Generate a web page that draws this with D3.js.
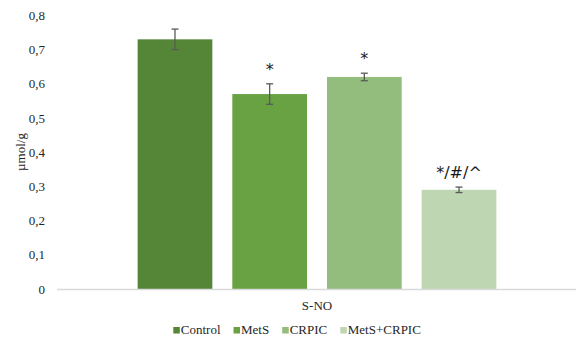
<!DOCTYPE html>
<html>
<head>
<meta charset="utf-8">
<script src="https://cdn.jsdelivr.net/npm/d3@7/dist/d3.min.js"></script>
<style>
  html, body { margin: 0; padding: 0; background: #fff; }
  svg { display: block; }
  .serif { font-family: "Liberation Serif", "Times New Roman", Times, serif; }
  .sans { font-family: "DejaVu Sans", Verdana, sans-serif; }
</style>
</head>
<body>
<svg id="chart" width="576" height="340"></svg>
<script>
// S-NO levels per group (µmol/g), with error bars and significance marks
const category = "S-NO";
const groups = ["Control", "MetS", "CRPIC", "MetS+CRPIC"];
const means = [0.73, 0.57, 0.62, 0.29];
const errors = [0.03, 0.03, 0.011, 0.008];
const marks = ["", "*", "*", "*/#/^"];
const yTicks = [0, 0.1, 0.2, 0.3, 0.4, 0.5, 0.6, 0.7, 0.8];
const colors = ["#558536", "#69a243", "#93bd7c", "#bed6b2"];

const svg = d3.select("#chart");

const plotLeft = 57, plotRight = 577, plotTop = 15.4, plotBottom = 289;

const y = d3.scaleLinear().domain([0, 0.8]).range([plotBottom, plotTop]);
const x0 = d3.scaleBand().domain([category]).range([plotLeft, plotRight])
  .paddingInner(0).paddingOuter(0.2248);
const x1 = d3.scaleBand().domain(groups).range([0, x0.bandwidth()])
  .paddingInner(0.211).paddingOuter(0);

const locale = d3.formatLocale({ decimal: ",", thousands: ".", grouping: [3], currency: ["", ""] });
const fmt = v => v === 0 ? "0" : locale.format(".1f")(v);

// y axis labels only (no axis line, no ticks)
const yAxis = svg.append("g")
  .attr("transform", `translate(${plotLeft},0)`)
  .call(d3.axisLeft(y).tickValues(yTicks).tickFormat(fmt).tickSize(0).tickPadding(12));
yAxis.select(".domain").remove();
yAxis.attr("font-family", null).attr("font-size", null);
yAxis.selectAll("text")
  .attr("class", "serif").style("font-size", "13px").attr("fill", "#262626");

// axis title
svg.append("text")
  .attr("class", "serif")
  .attr("transform", `translate(25,152) rotate(-90)`)
  .attr("text-anchor", "middle")
  .style("font-size", "13px").attr("fill", "#262626")
  .text("µmol/g");

const gx = x0(category);

// bars
svg.append("g").selectAll("rect")
  .data(groups)
  .join("rect")
  .attr("x", d => gx + x1(d))
  .attr("width", x1.bandwidth())
  .attr("y", (d, i) => y(means[i]))
  .attr("height", (d, i) => y(0) - y(means[i]))
  .attr("fill", (d, i) => colors[i]);

// baseline
svg.append("line")
  .attr("x1", plotLeft).attr("x2", 576)
  .attr("y1", y(0) + 0.5).attr("y2", y(0) + 0.5)
  .attr("stroke", "#d9d9d9").attr("stroke-width", 1.5);

// error bars
const eb = svg.append("g").attr("stroke", "#5a5a5a").attr("stroke-width", 1.3).attr("fill", "none");
groups.forEach((g, i) => {
  const cx = gx + x1(g) + x1.bandwidth() / 2;
  const yt = y(means[i] + errors[i]);
  const yb = y(means[i] - errors[i]);
  eb.append("line").attr("x1", cx).attr("x2", cx).attr("y1", yt).attr("y2", yb);
  eb.append("line").attr("x1", cx - 3.5).attr("x2", cx + 3.5).attr("y1", yt).attr("y2", yt);
  eb.append("line").attr("x1", cx - 3.5).attr("x2", cx + 3.5).attr("y1", yb).attr("y2", yb);
});

// significance marks
svg.append("g").selectAll("text")
  .data(groups)
  .join("text")
  .attr("class", "sans")
  .attr("x", d => gx + x1(d) + x1.bandwidth() / 2)
  .attr("y", (d, i) => y(means[i] + errors[i]) - 9)
  .attr("text-anchor", "middle")
  .style("font-size", "16px").attr("fill", "#1a1a1a")
  .text((d, i) => marks[i]);

// category label
svg.append("text")
  .attr("class", "serif")
  .attr("x", gx + x0.bandwidth() / 2).attr("y", 310)
  .attr("text-anchor", "middle")
  .style("font-size", "13px").attr("fill", "#262626")
  .text(category);

// legend
const legend = svg.append("g");
let lx = 173.3;
groups.forEach((g, i) => {
  legend.append("rect")
    .attr("x", lx).attr("y", 327).attr("width", 6.5).attr("height", 6.5)
    .attr("fill", colors[i]);
  const t = legend.append("text")
    .attr("class", "serif")
    .attr("x", lx + 7.5).attr("y", 334)
    .style("font-size", "13px").attr("fill", "#262626")
    .text(g);
  lx += 7.5 + t.node().getComputedTextLength() + 13;
});
</script>
</body>
</html>
